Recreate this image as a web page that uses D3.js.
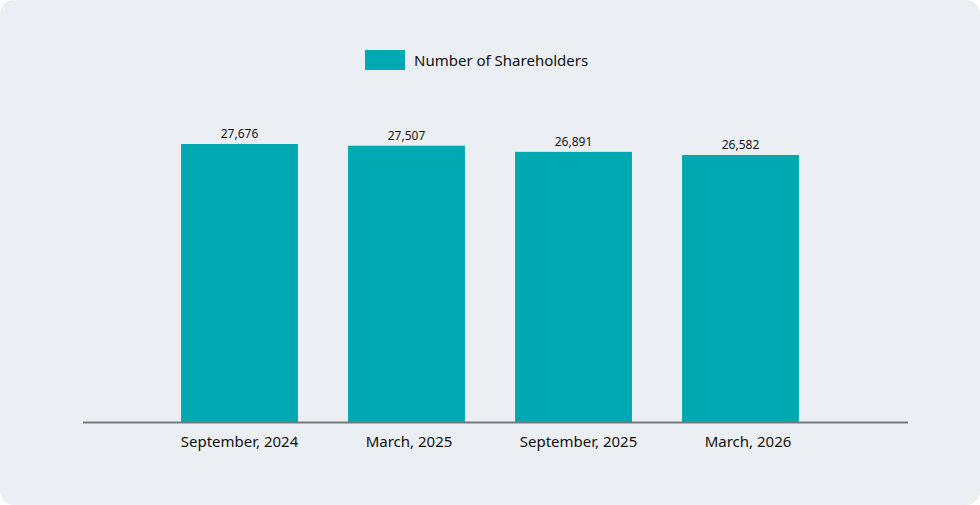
<!DOCTYPE html>
<html lang="en">
  <head>
    <meta charset="UTF-8" />
    <title>Number of Shareholders</title>
    <script src="https://d3js.org/d3.v7.min.js"></script>
    <style>
      body {
        margin: 0;
        background: #ffffff;
        font-family: 'Noto Sans', 'Open Sans', sans-serif;
      }
    </style>
  </head>
  <body>
    <div id="chart"></div>
    <script>
      const periods = ['September, 2024', 'March, 2025', 'September, 2025', 'March, 2026'];
      const shareholders = [27676, 27507, 26891, 26582];
      const seriesName = 'Number of Shareholders';

      const W = 980;
      const H = 505;
      const baseY = 422;
      const topY = 144;

      const svg = d3
        .select('#chart')
        .append('svg')
        .attr('width', W)
        .attr('height', H);

      svg
        .append('rect')
        .attr('x', 0)
        .attr('y', 0)
        .attr('width', W)
        .attr('height', H)
        .attr('rx', 14)
        .attr('fill', '#ebeef3');

      const x = d3
        .scaleBand()
        .domain(periods)
        .range([156, 824])
        .paddingInner(0.3)
        .paddingOuter(0.15);

      const y = d3
        .scaleLinear()
        .domain([0, d3.max(shareholders)])
        .range([baseY, topY]);

      const data = periods.map((p, i) => ({ period: p, value: shareholders[i] }));

      // bars
      svg
        .selectAll('rect.bar')
        .data(data)
        .enter()
        .append('rect')
        .attr('class', 'bar')
        .attr('x', d => x(d.period))
        .attr('y', d => y(d.value))
        .attr('width', x.bandwidth())
        .attr('height', d => baseY - y(d.value))
        .attr('fill', '#00a8b1');

      // value labels
      svg
        .selectAll('text.val')
        .data(data)
        .enter()
        .append('text')
        .attr('class', 'val')
        .attr('x', d => x(d.period) + x.bandwidth() / 2)
        .attr('y', d => y(d.value) - 6)
        .attr('text-anchor', 'middle')
        .style('font-size', '12px')
        .attr('fill', '#161616')
        .text(d => d3.format(',')(d.value));

      // x axis
      const xAxis = svg
        .append('g')
        .attr('transform', `translate(0,${baseY})`)
        .call(d3.axisBottom(x).tickSize(0).tickPadding(14));
      xAxis.select('.domain').remove();
      xAxis
        .append('line')
        .attr('x1', 83)
        .attr('x2', 908)
        .attr('y1', 0.5)
        .attr('y2', 0.5)
        .attr('stroke', '#76787c')
        .attr('stroke-width', 2);
      xAxis
        .selectAll('.tick text')
        .attr('dx', (d, i) => i * 2.5)
        .style('font-family', "'Noto Sans', 'Open Sans', sans-serif")
        .style('font-size', '15px')
        .attr('fill', '#111111');

      // legend
      const legend = svg.append('g').attr('transform', 'translate(365,50)');
      legend
        .append('rect')
        .attr('width', 40)
        .attr('height', 20)
        .attr('fill', '#00a8b1');
      legend
        .append('text')
        .attr('x', 49)
        .attr('y', 16)
        .style('font-size', '15px')
        .attr('fill', '#111111')
        .text(seriesName);
    </script>
  </body>
</html>
